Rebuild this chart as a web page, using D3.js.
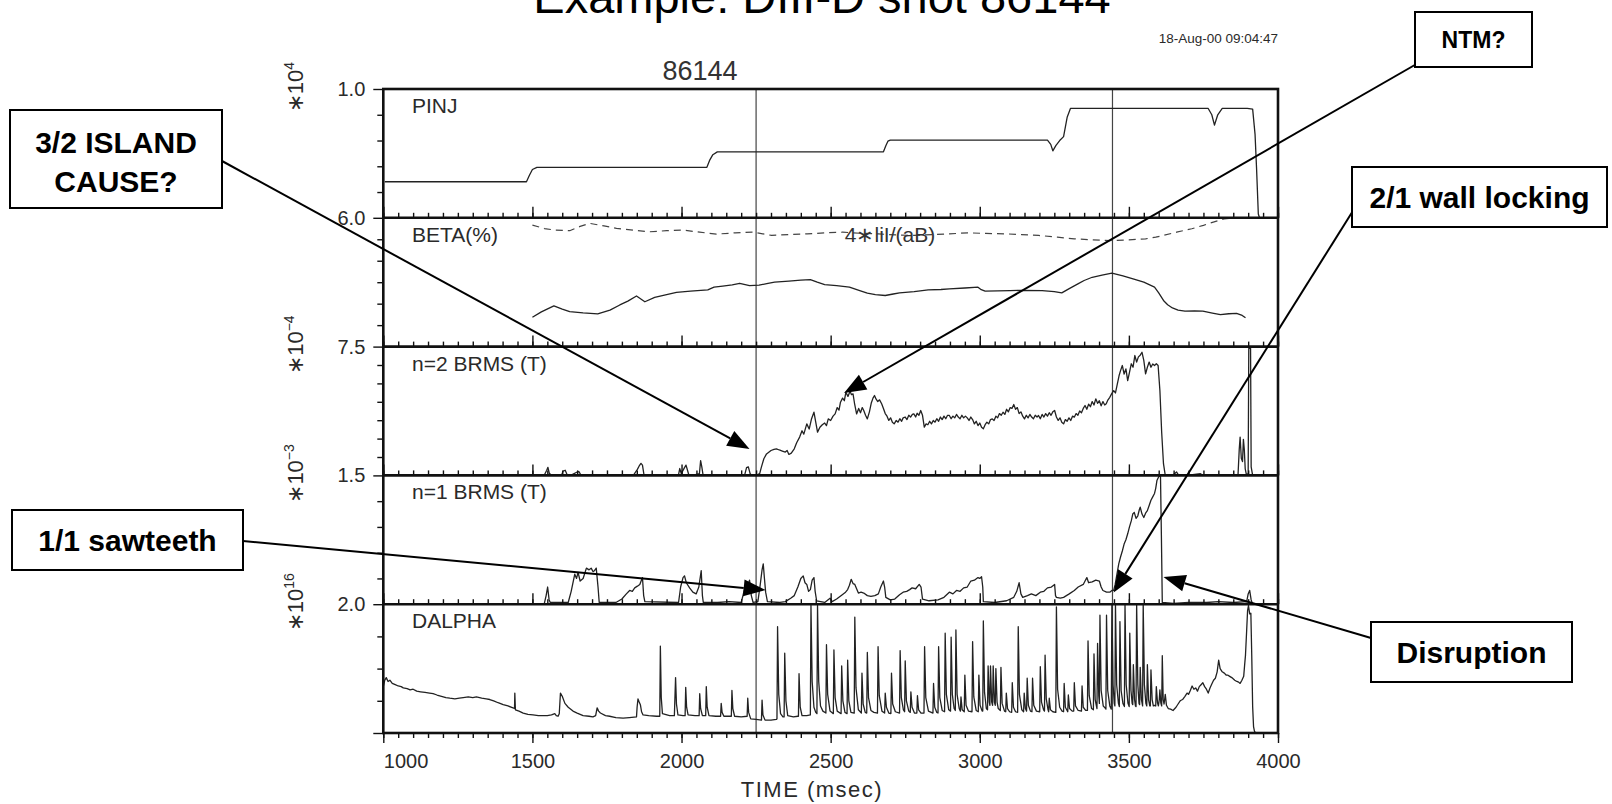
<!DOCTYPE html>
<html>
<head>
<meta charset="utf-8">
<script src="https://cdn.jsdelivr.net/npm/d3@7"></script>
<style>
  html, body { margin: 0; padding: 0; background: #fff; }
  svg { display: block; }
</style>
</head>
<body>
<svg id="chart" width="1612" height="804"></svg>
<script>
// ---- shot 86144 signals: [time (ms), value in panel units] ----

// Neutral beam power, units of 1e4
const pinj = [[1005,0.28],[1480,0.28],[1490,0.33],[1500,0.375],[1515,0.392],[2085,0.392],[2095,0.45],[2105,0.49],[2120,0.512],
  [2677,0.512],[2685,0.56],[2692,0.595],[2700,0.603],[3227,0.603],[3238,0.57],[3245,0.52],[3255,0.56],[3268,0.60],[3281,0.63],
  [3293,0.78],[3304,0.849],[3766,0.849],[3778,0.80],[3787,0.72],[3798,0.80],[3813,0.849],[3897,0.849],[3915,0.844],[3923,0.65],
  [3928,0.39],[3934,0.03],[3938,0]];

// Beta (%)
const beta = [[1500,1.37],[1530,1.62],[1572,1.9],[1600,1.75],[1625,1.63],[1670,1.57],[1719,1.52],[1760,1.7],[1793,1.94],[1820,2.12],
  [1849,2.36],[1877,2.09],[1910,2.29],[1950,2.42],[1983,2.53],[2030,2.58],[2088,2.64],[2109,2.77],[2138,2.82],[2170,2.88],[2195,2.95],
  [2228,2.84],[2260,2.86],[2290,2.95],[2312,3.0],[2360,3.05],[2400,3.1],[2432,3.12],[2455,3.0],[2480,2.89],[2520,2.84],[2563,2.77],
  [2600,2.6],[2623,2.49],[2650,2.42],[2683,2.38],[2710,2.45],[2731,2.5],[2780,2.56],[2827,2.64],[2870,2.66],[2898,2.69],[2950,2.73],
  [2994,2.77],[3005,2.65],[3018,2.58],[3060,2.6],[3102,2.61],[3150,2.62],[3209,2.61],[3250,2.56],[3275,2.5],[3300,2.7],[3329,2.92],
  [3350,3.08],[3377,3.23],[3410,3.33],[3443,3.42],[3480,3.3],[3514,3.16],[3550,3.0],[3586,2.77],[3600,2.5],[3616,2.15],[3630,1.95],
  [3646,1.8],[3665,1.7],[3688,1.65],[3720,1.66],[3748,1.65],[3780,1.56],[3807,1.49],[3835,1.53],[3861,1.55],[3880,1.45],[3891,1.34]];

// Beta limit 4*li*I/(aB)
const betaLimit = [[1500,5.66],[1540,5.5],[1575,5.43],[1625,5.4],[1660,5.6],[1692,5.74],[1740,5.62],[1782,5.51],[1840,5.42],[1893,5.35],
  [1950,5.4],[2004,5.43],[2061,5.33],[2117,5.24],[2180,5.3],[2242,5.33],[2302,5.18],[2360,5.22],[2421,5.25],[2480,5.3],[2540,5.33],
  [2600,5.28],[2660,5.25],[2720,5.2],[2779,5.18],[2840,5.22],[2898,5.25],[2960,5.3],[3020,5.27],[3090,5.25],[3140,5.22],[3197,5.18],
  [3260,5.1],[3317,5.02],[3380,4.97],[3436,4.94],[3500,4.97],[3556,5.02],[3590,5.1],[3616,5.18],[3660,5.33],[3711,5.49],[3750,5.65],
  [3783,5.8],[3819,5.95],[3850,6.0],[3900,6.0]];

// n=2 magnetic fluctuation amplitude, units of 1e-4 T
const brmsN2 = [[1500,0.05],[1510,0.0],[1540,0.02],[1548,0.3],[1552,0.47],[1557,0.1],[1565,0.02],[1598,0.03],[1603,0.25],[1610,0.3],
  [1616,0.05],[1630,0.02],[1650,0.2],[1656,0.22],[1662,0.04],[1700,0.02],[1750,0.03],[1800,0.02],[1840,0.05],[1852,0.35],[1858,0.55],
  [1864,0.7],[1869,0.6],[1874,0.05],[1900,0.02],[1950,0.03],[1990,0.05],[1994,0.4],[1999,0.1],[2010,0.45],[2015,0.6],[2020,0.3],
  [2024,0.05],[2040,0.02],[2060,0.1],[2064,0.86],[2068,0.5],[2072,0.05],[2100,0.02],[2150,0.03],[2200,0.02],[2212,0.05],[2218,0.45],
  [2224,0.5],[2230,0.1],[2236,0.0],[2250,0.0],[2262,0.1],[2268,0.5],[2276,0.97],[2285,1.25],[2300,1.45],[2310,1.52],[2318,1.55],
  [2328,1.48],[2338,1.42],[2348,1.36],[2354,1.45],[2360,1.22],[2368,1.3],[2378,1.55],[2386,1.9],[2396,2.23],[2404,2.6],[2410,2.4],
  [2420,3.0],[2428,2.7],[2436,3.3],[2444,3.68],[2450,3.1],[2456,2.52],[2464,2.8],[2472,2.95],[2480,3.05],[2486,2.9],[2492,3.29],
  [2500,3.2],[2508,3.45],[2515,3.58],[2522,3.95],[2528,3.8],[2533,4.26],[2540,4.5],[2546,4.35],[2551,4.84],[2558,4.6],[2565,4.9],
  [2570,4.7],[2575,4.75],[2580,4.2],[2587,3.58],[2594,3.9],[2600,3.65],[2606,3.95],[2611,3.78],[2617,3.5],[2623,3.29],[2630,3.7],
  [2636,4.2],[2642,4.5],[2647,4.65],[2652,4.45],[2658,4.3],[2664,4.4],[2671,4.17],[2677,3.9],[2683,3.6],[2689,3.45],[2695,3.2],
  [2701,3.35],[2707,3.1],[2713,3.0],[2720,3.2],[2726,3.1],[2732,3.3],[2738,3.15],[2743,3.35],[2750,3.4],[2756,3.25],[2762,3.5],
  [2768,3.4],[2774,3.55],[2779,3.58],[2785,3.4],[2790,3.62],[2796,3.5],[2802,3.78],[2808,3.5],[2814,2.81],[2820,3.0],[2826,2.95],
  [2832,3.15],[2838,3.0],[2844,3.2],[2850,3.1],[2856,3.3],[2862,3.15],[2868,3.4],[2874,3.25],[2880,3.45],[2886,3.3],[2892,3.5],
  [2898,3.49],[2904,3.3],[2910,3.45],[2916,3.35],[2922,3.55],[2928,3.4],[2934,3.3],[2940,3.5],[2946,3.35],[2952,3.45],[2958,3.35],
  [2964,3.2],[2970,3.4],[2976,3.25],[2982,3.0],[2988,3.15],[2994,2.9],[3000,3.05],[3006,2.8],[3012,2.71],[3018,2.95],[3024,3.1],
  [3030,3.0],[3036,3.25],[3042,3.29],[3048,3.2],[3054,3.45],[3060,3.35],[3066,3.6],[3072,3.5],[3078,3.68],[3084,3.55],[3090,3.85],
  [3096,3.7],[3102,3.95],[3108,3.9],[3114,4.13],[3120,3.85],[3126,3.95],[3132,3.6],[3138,3.7],[3144,3.45],[3150,3.29],[3156,3.5],
  [3162,3.35],[3168,3.55],[3174,3.4],[3180,3.3],[3186,3.5],[3192,3.4],[3197,3.49],[3203,3.3],[3209,3.55],[3215,3.4],[3221,3.6],
  [3227,3.45],[3233,3.65],[3239,3.5],[3245,3.7],[3251,3.78],[3257,3.4],[3263,3.2],[3269,3.35],[3275,3.1],[3281,3.0],[3287,3.25],
  [3293,3.15],[3299,3.35],[3305,3.2],[3311,3.45],[3317,3.39],[3323,3.6],[3329,3.5],[3335,3.75],[3341,3.65],[3347,3.9],[3353,4.07],
  [3359,3.85],[3365,4.15],[3371,4.0],[3377,4.3],[3383,4.1],[3389,4.46],[3395,4.2],[3401,4.35],[3407,4.05],[3413,4.3],[3419,4.1],
  [3424,4.17],[3430,4.4],[3436,4.55],[3442,4.75],[3449,4.94],[3455,4.8],[3461,5.3],[3467,5.8],[3472,6.1],[3478,6.4],[3484,5.9],
  [3490,6.2],[3496,5.52],[3502,6.0],[3508,6.5],[3514,6.3],[3520,6.98],[3526,6.6],[3532,6.9],[3538,7.0],[3544,7.17],[3550,6.7],
  [3556,5.91],[3562,6.3],[3568,6.6],[3574,6.3],[3580,6.49],[3586,6.4],[3592,6.5],[3598,6.4],[3604,4.94],[3610,2.5],[3616,0.68],
  [3622,0.0],[3650,0.05],[3660,0.2],[3666,0.03],[3700,0.02],[3740,0.1],[3746,0.03],[3800,0.02],[3850,0.03],[3866,0.05],[3870,1.5],
  [3873,2.23],[3877,1.0],[3881,0.8],[3884,2.1],[3887,1.5],[3890,0.4],[3894,0.05],[3900,0.1],[3902,7.4],[3908,7.4],[3910,0.5],[3915,0.0]];

// n=1 magnetic fluctuation amplitude, units of 1e-3 T
const brmsN1 = [[1500,0.0],[1540,0.01],[1546,0.1],[1551,0.2],[1556,0.05],[1560,0.02],[1620,0.02],[1630,0.15],[1642,0.35],[1648,0.3],
  [1653,0.37],[1660,0.27],[1670,0.3],[1681,0.42],[1690,0.4],[1697,0.42],[1703,0.38],[1708,0.39],[1714,0.42],[1720,0.2],[1724,0.02],
  [1780,0.02],[1800,0.06],[1815,0.12],[1826,0.16],[1835,0.15],[1843,0.19],[1852,0.21],[1860,0.23],[1869,0.31],[1873,0.1],[1877,0.03],
  [1990,0.02],[1997,0.2],[2005,0.31],[2010,0.33],[2016,0.25],[2027,0.19],[2038,0.14],[2049,0.12],[2058,0.2],[2066,0.39],[2070,0.1],
  [2073,0.02],[2120,0.02],[2160,0.03],[2200,0.02],[2206,0.1],[2212,0.19],[2218,0.12],[2223,0.23],[2228,0.28],[2234,0.1],[2240,0.02],
  [2256,0.03],[2264,0.23],[2270,0.4],[2274,0.47],[2278,0.3],[2282,0.14],[2288,0.03],[2330,0.02],[2348,0.03],[2366,0.07],[2378,0.1],
  [2390,0.2],[2400,0.3],[2408,0.33],[2414,0.25],[2420,0.23],[2426,0.15],[2432,0.17],[2438,0.28],[2444,0.31],[2448,0.15],[2453,0.04],
  [2480,0.02],[2498,0.07],[2505,0.03],[2520,0.06],[2539,0.11],[2550,0.14],[2557,0.17],[2563,0.22],[2569,0.29],[2575,0.24],[2581,0.23],
  [2587,0.18],[2593,0.13],[2602,0.14],[2611,0.13],[2623,0.1],[2635,0.09],[2648,0.1],[2660,0.12],[2668,0.2],[2677,0.27],[2681,0.2],
  [2685,0.08],[2700,0.05],[2715,0.06],[2731,0.11],[2743,0.14],[2755,0.15],[2765,0.17],[2773,0.19],[2785,0.18],[2797,0.23],[2803,0.2],
  [2808,0.06],[2830,0.04],[2860,0.05],[2880,0.08],[2898,0.14],[2910,0.12],[2922,0.16],[2934,0.15],[2946,0.19],[2958,0.2],[2970,0.27],
  [2982,0.28],[2994,0.31],[3000,0.3],[3006,0.32],[3010,0.2],[3012,0.03],[3050,0.02],[3090,0.04],[3114,0.08],[3124,0.15],[3132,0.25],
  [3138,0.12],[3144,0.08],[3160,0.1],[3173,0.12],[3188,0.1],[3203,0.14],[3215,0.15],[3227,0.19],[3240,0.2],[3251,0.23],[3254,0.1],
  [3257,0.08],[3270,0.07],[3281,0.08],[3300,0.12],[3317,0.16],[3330,0.2],[3347,0.23],[3353,0.27],[3359,0.31],[3365,0.25],[3377,0.26],
  [3389,0.28],[3401,0.27],[3407,0.2],[3413,0.16],[3425,0.14],[3436,0.14],[3443,0.16],[3449,0.16],[3454,0.23],[3460,0.35],[3466,0.47],
  [3472,0.55],[3478,0.62],[3484,0.7],[3490,0.75],[3496,0.82],[3502,0.9],[3508,0.97],[3513,1.05],[3518,1.07],[3524,1.0],[3530,1.03],
  [3535,1.1],[3538,1.13],[3544,1.05],[3550,1.01],[3556,1.06],[3562,1.09],[3568,1.15],[3574,1.21],[3580,1.25],[3586,1.29],[3590,1.35],
  [3594,1.44],[3601,1.49],[3606,1.49],[3609,0.8],[3612,0.02],[3650,0.01],[3700,0.02],[3760,0.02],[3800,0.03],[3850,0.02],[3895,0.03],
  [3900,0.12],[3905,0.16],[3910,0.05],[3915,0.0]];

// D-alpha emission, units of 1e16
const dalpha = [[1000,0.72],[1005,0.82],[1010,0.86],[1016,0.8],[1022,0.82],[1030,0.77],[1040,0.75],[1050,0.73],[1060,0.72],[1067,0.7],
  [1080,0.69],[1090,0.67],[1100,0.68],[1112,0.65],[1125,0.64],[1140,0.63],[1155,0.62],[1167,0.61],[1180,0.59],[1195,0.57],[1210,0.55],
  [1223,0.54],[1240,0.53],[1255,0.54],[1268,0.55],[1285,0.56],[1300,0.55],[1312,0.56],[1330,0.54],[1345,0.53],[1357,0.52],[1370,0.5],
  [1385,0.47],[1402,0.44],[1418,0.42],[1435,0.39],[1440,0.38],[1441,0.62],[1443,0.36],[1455,0.34],[1469,0.31],[1485,0.29],[1502,0.28],
  [1520,0.27],[1536,0.27],[1550,0.27],[1564,0.28],[1575,0.3],[1580,0.27],[1586,0.26],[1590,0.3],[1594,0.62],[1600,0.57],[1609,0.46],
  [1620,0.4],[1636,0.34],[1650,0.31],[1670,0.27],[1690,0.26],[1703,0.25],[1712,0.27],[1717,0.39],[1722,0.34],[1728,0.31],[1745,0.27],
  [1759,0.26],[1780,0.24],[1804,0.23],[1825,0.24],[1849,0.25],[1851,0.4],[1854,0.53],[1858,0.48],[1862,0.44],[1866,0.33],[1871,0.28],
  [1890,0.27],[1916,0.26],[1927,0.26],[1929,1.35],[1932,0.55],[1936,0.3],[1960,0.27],[1976,0.27],[1980,0.86],[1983,0.45],[1988,0.28],
  [2005,0.27],[2012,0.27],[2014,0.71],[2017,0.4],[2022,0.28],[2045,0.27],[2059,0.27],[2061,0.61],[2064,0.38],[2070,0.27],[2081,0.27],
  [2083,0.72],[2086,0.4],[2092,0.27],[2115,0.26],[2131,0.26],[2133,0.46],[2136,0.32],[2142,0.26],[2167,0.26],[2169,0.66],[2172,0.38],
  [2178,0.26],[2200,0.25],[2220,0.26],[2222,0.54],[2225,0.32],[2232,0.22],[2250,0.21],[2268,0.2],[2270,0.51],[2273,0.28],[2280,0.2],
  [2300,0.2],[2318,0.21],[2320,0.22],[2322,1.65],[2326,0.6],[2332,0.3],[2340,0.25],[2344,0.25],[2346,1.24],[2350,0.5],[2356,0.27],
  [2375,0.25],[2390,0.26],[2392,0.26],[2394,0.92],[2398,0.4],[2404,0.27],[2420,0.27],[2432,0.28],[2434,1.98],[2438,0.8],[2444,0.4],
  [2450,0.32],[2454,0.3],[2456,1.98],[2460,0.8],[2466,0.42],[2474,0.34],[2484,0.31],[2486,1.37],[2490,0.6],[2498,0.34],[2509,0.3],
  [2511,1.29],[2515,0.55],[2522,0.34],[2535,0.3],[2537,1.04],[2541,0.5],[2548,0.32],[2555,0.3],[2557,1.13],[2561,0.5],[2568,0.32],
  [2579,0.31],[2581,1.8],[2585,0.7],[2593,0.36],[2603,0.31],[2605,0.93],[2609,0.45],[2616,0.32],[2621,0.31],[2623,1.25],[2627,0.55],
  [2635,0.35],[2645,0.32],[2657,0.31],[2659,1.34],[2663,0.58],[2672,0.34],[2681,0.31],[2683,0.62],[2687,0.4],[2695,0.31],[2702,0.3],
  [2704,0.93],[2708,0.45],[2717,0.33],[2731,0.31],[2733,1.28],[2737,0.55],[2744,0.36],[2748,0.33],[2750,1.12],[2754,0.5],[2762,0.34],
  [2767,0.32],[2769,0.64],[2773,0.4],[2781,0.31],[2789,0.31],[2791,0.58],[2795,0.36],[2803,0.31],[2813,0.31],[2815,1.34],[2819,0.55],
  [2828,0.34],[2843,0.31],[2845,0.77],[2849,0.4],[2856,0.32],[2860,0.31],[2862,1.34],[2866,0.55],[2874,0.35],[2882,0.33],[2884,1.55],
  [2888,0.6],[2896,0.36],[2902,0.34],[2904,1.49],[2908,0.6],[2914,0.38],[2918,0.35],[2920,1.6],[2924,0.6],[2931,0.38],[2935,0.34],
  [2937,0.56],[2941,0.36],[2948,0.33],[2950,0.9],[2954,0.43],[2962,0.34],[2974,0.33],[2976,1.42],[2980,0.56],[2988,0.35],[2995,0.33],
  [2997,0.9],[3001,0.43],[3008,0.34],[3010,0.34],[3012,1.74],[3016,0.63],[3022,0.38],[3026,0.36],[3028,1.04],[3032,0.48],[3034,0.43],
  [3036,1.04],[3040,0.48],[3043,0.43],[3045,1.04],[3049,0.48],[3052,0.43],[3054,1.0],[3058,0.48],[3062,0.38],[3069,0.35],[3071,1.02],
  [3075,0.46],[3083,0.34],[3087,0.33],[3089,0.62],[3093,0.38],[3100,0.33],[3107,0.32],[3109,0.78],[3113,0.4],[3120,0.33],[3127,0.32],
  [3129,1.65],[3133,0.6],[3141,0.36],[3147,0.33],[3149,0.62],[3153,0.38],[3157,0.34],[3159,0.85],[3163,0.43],[3170,0.34],[3175,0.33],
  [3177,0.85],[3181,0.43],[3190,0.34],[3201,0.33],[3203,1.03],[3207,0.48],[3214,0.36],[3217,0.34],[3219,1.21],[3223,0.53],[3229,0.36],
  [3231,0.33],[3233,0.54],[3237,0.36],[3245,0.33],[3255,0.32],[3257,1.96],[3261,0.68],[3268,0.4],[3276,0.34],[3281,0.33],[3283,0.77],
  [3287,0.4],[3295,0.33],[3297,0.59],[3301,0.38],[3310,0.34],[3315,0.34],[3317,0.78],[3321,0.42],[3330,0.35],[3341,0.34],[3343,0.73],
  [3347,0.4],[3355,0.35],[3361,0.35],[3363,1.43],[3367,0.58],[3375,0.38],[3381,0.36],[3383,1.23],[3387,0.52],[3391,0.42],[3393,0.38],
  [3395,1.39],[3399,0.58],[3401,0.46],[3403,1.83],[3407,0.66],[3414,0.42],[3420,0.39],[3423,0.37],[3425,1.83],[3429,0.66],[3436,0.42],
  [3441,0.37],[3443,2.0],[3447,0.75],[3451,0.46],[3453,0.42],[3455,2.0],[3459,0.75],[3465,0.46],[3468,0.41],[3470,1.73],[3474,0.66],
  [3480,0.46],[3485,0.41],[3487,2.0],[3491,0.75],[3497,0.46],[3501,0.41],[3503,1.55],[3507,0.66],[3511,0.46],[3513,0.44],[3515,1.06],
  [3519,0.52],[3522,0.42],[3524,0.41],[3526,2.0],[3530,0.75],[3534,0.46],[3536,0.44],[3538,1.02],[3542,0.52],[3546,0.42],[3548,2.0],
  [3552,0.75],[3557,0.46],[3560,0.42],[3562,1.06],[3566,0.52],[3570,0.42],[3572,0.42],[3574,0.98],[3578,0.52],[3582,0.42],[3586,0.43],
  [3590,0.42],[3592,0.72],[3596,0.47],[3599,0.42],[3602,0.52],[3604,0.67],[3607,0.47],[3610,0.42],[3612,1.2],[3615,0.52],[3618,0.45],
  [3622,0.6],[3626,0.43],[3632,0.38],[3640,0.37],[3648,0.35],[3658,0.4],[3665,0.45],[3672,0.5],[3680,0.52],[3688,0.57],[3695,0.62],
  [3700,0.6],[3706,0.66],[3712,0.73],[3718,0.68],[3724,0.7],[3730,0.65],[3736,0.72],[3742,0.75],[3748,0.78],[3754,0.72],[3760,0.68],
  [3766,0.62],[3772,0.7],[3778,0.76],[3784,0.82],[3790,0.85],[3796,0.95],[3801,1.13],[3806,1.0],[3813,0.95],[3820,0.93],[3826,0.9],
  [3831,0.9],[3838,0.88],[3845,0.86],[3855,0.82],[3862,0.8],[3868,0.79],[3873,0.77],[3879,0.82],[3885,0.88],[3888,1.05],[3891,1.21],
  [3895,1.6],[3898,1.9],[3901,1.98],[3905,1.85],[3909,1.86],[3912,1.2],[3915,0.41],[3918,0.1],[3921,0.03],[3925,0.0]];

// Panel names, full-scale values, their printed labels and exponents
const panelNames  = ["PINJ", "BETA(%)", "n=2 BRMS (T)", "n=1 BRMS (T)", "DALPHA"];
const panelMax    = [1.0, 6.0, 7.5, 1.5, 2.0];
const panelTopTxt = ["1.0", "6.0", "7.5", "1.5", "2.0"];
const panelExp    = ["4", null, "\u22124", "\u22123", "16"];
const panelDivs   = [5, 6, 7, 5, 4];

// Time axis
const timeDomain = [1000, 4000];
const majorTicks = [1000, 1500, 2000, 2500, 3000, 3500, 4000];
const markerTimes = [2250, 3445];

// Annotations: tip anchored to [time, value, panel index]
const notes = [
  { lines: ["3/2 ISLAND", "CAUSE?"], tip: [2228, 1.54, 2] },
  { lines: ["NTM?"], tip: [2545, 4.8, 2] },
  { lines: ["2/1 wall locking"], tip: [3449, 0.136, 3] },
  { lines: ["1/1 sawteeth"], tip: [2282, 0.166, 3] },
  { lines: ["Disruption"], tip: [3616, 0.317, 3] }
];

// ---------------------------------------------------------------
const svg = d3.select("#chart");
const FONT = "'Liberation Sans', Arial, sans-serif";
const INK = "#2a2a2a";

const frame = { left: 383.3, right: 1278, top: 89, bottom: 733 };
const panelH = (frame.bottom - frame.top) / panelNames.length;

const x = d3.scaleLinear().domain(timeDomain).range([frame.left, frame.right]);

const panels = panelNames.map((name, i) => {
  const y0 = frame.top + i * panelH, y1 = y0 + panelH;
  return { name, i, y0, y1, max: panelMax[i],
           y: d3.scaleLinear().domain([0, panelMax[i]]).range([y1, y0]) };
});

const seriesByPanel = [
  [{ data: pinj }],
  [{ data: beta }, { data: betaLimit, dash: "7,5" }],
  [{ data: brmsN2 }],
  [{ data: brmsN1 }],
  [{ data: dalpha }]
];

// Title, date stamp and shot number
svg.append("text").attr("x", 822).attr("y", 13)
  .attr("text-anchor", "middle").attr("font-family", FONT).attr("font-size", 47)
  .attr("fill", "#000").text("Example: DIII-D shot 86144");

svg.append("text").attr("x", frame.right).attr("y", 43)
  .attr("text-anchor", "end").attr("font-family", FONT).attr("font-size", 13.5)
  .attr("fill", INK).text("18-Aug-00 09:04:47");

svg.append("text").attr("x", 700).attr("y", 80)
  .attr("text-anchor", "middle").attr("font-family", FONT).attr("font-size", 27)
  .attr("fill", "#333").text("86144");

// Clip paths per panel
const defs = svg.append("defs");
panels.forEach(p => {
  defs.append("clipPath").attr("id", "clip" + p.i)
    .append("rect").attr("x", frame.left).attr("y", p.y0 - 1)
    .attr("width", frame.right - frame.left).attr("height", panelH + 2);
});

// Event markers (vertical lines)
svg.append("g").selectAll("line").data(markerTimes).join("line")
  .attr("x1", d => x(d)).attr("x2", d => x(d))
  .attr("y1", frame.top).attr("y2", frame.bottom)
  .attr("stroke", "#444").attr("stroke-width", 1.2);

// Traces
const line = d3.line();
panels.forEach(p => {
  const g = svg.append("g").attr("clip-path", `url(#clip${p.i})`);
  seriesByPanel[p.i].forEach(s => {
    g.append("path")
      .attr("d", line.x(d => x(d[0])).y(d => p.y(d[1]))(s.data))
      .attr("fill", "none")
      .attr("stroke", s.dash ? "#444" : "#222")
      .attr("stroke-width", s.dash ? 1.2 : 1.3)
      .attr("stroke-dasharray", s.dash || null)
      .attr("stroke-linejoin", "round");
  });
});

// Time ticks on each inner boundary (pointing up into panel above)
const minorTimes = d3.range(timeDomain[0], timeDomain[1] + 1, 50);
panels.slice(1).forEach(p => {
  svg.append("g").attr("transform", `translate(0,${p.y0})`)
    .call(d3.axisTop(x).tickValues(minorTimes).tickSize(5).tickFormat(""))
    .call(g => g.select(".domain").remove());
  svg.append("g").attr("transform", `translate(0,${p.y0})`)
    .call(d3.axisTop(x).tickValues(majorTicks).tickSize(11).tickFormat(""))
    .call(g => g.select(".domain").remove());
});

// Bottom time axis
svg.append("g").attr("transform", `translate(0,${frame.bottom})`)
  .call(d3.axisBottom(x).tickValues(minorTimes).tickSize(5).tickFormat(""))
  .call(g => g.select(".domain").remove());
const xAxis = svg.append("g").attr("transform", `translate(0,${frame.bottom})`)
  .call(d3.axisBottom(x).tickValues(majorTicks).tickSize(10).tickPadding(11).tickFormat(d3.format("d")))
  .call(g => g.select(".domain").remove());
xAxis.selectAll("text").attr("font-family", FONT).attr("font-size", 20).attr("fill", INK)
  .attr("text-anchor", (d, k) => k === 0 ? "start" : "middle");
svg.selectAll(".tick line").attr("stroke", "#111").attr("stroke-width", 1.4);

svg.append("text").attr("x", 812).attr("y", 797)
  .attr("text-anchor", "middle").attr("font-family", FONT).attr("font-size", 22)
  .attr("letter-spacing", 1.5).attr("fill", INK).text("TIME (msec)");

// Left value axes
panels.forEach(p => {
  const minors = d3.range(1, panelDivs[p.i]).map(k => k * p.max / panelDivs[p.i]);
  const ga = svg.append("g").attr("transform", `translate(${frame.left},0)`)
    .call(d3.axisLeft(p.y).tickValues(minors).tickSize(6).tickFormat(""))
    .call(g => g.select(".domain").remove());
  ga.selectAll("line").attr("stroke", "#111").attr("stroke-width", 1.4);
  const majors = p.i === panels.length - 1 ? [0, p.max] : [p.max];
  const gb = svg.append("g").attr("transform", `translate(${frame.left},0)`)
    .call(d3.axisLeft(p.y).tickValues(majors).tickSize(10).tickPadding(8)
      .tickFormat(d => d === p.max ? panelTopTxt[p.i] : ""))
    .call(g => g.select(".domain").remove());
  gb.selectAll("line").attr("stroke", "#111").attr("stroke-width", 1.4);
  gb.selectAll("text").attr("font-family", FONT).attr("font-size", 20).attr("fill", INK);

  // Exponent, rotated
  if (panelExp[p.i]) {
    const t = svg.append("text")
      .attr("transform", `translate(303,${p.y0 - 2}) rotate(-90)`)
      .attr("text-anchor", "middle").attr("font-family", FONT).attr("font-size", 22).attr("fill", INK);
    t.append("tspan").text("\u221710");
    t.append("tspan").attr("dy", -9).attr("font-size", 14).text(panelExp[p.i]);
  }

  // Panel name
  svg.append("text").attr("x", 412).attr("y", p.y0 + 24)
    .attr("font-family", FONT).attr("font-size", 21).attr("fill", INK).text(p.name);
});

// Label of the dashed beta-limit curve
svg.append("text").attr("x", 890).attr("y", panels[1].y0 + 24)
  .attr("text-anchor", "middle").attr("font-family", FONT).attr("font-size", 21)
  .attr("fill", "#333").text("4\u2217liI/(aB)");

// Frame and panel boundaries
const frameG = svg.append("g").attr("stroke", "#111").attr("stroke-width", 2.6).attr("fill", "none");
frameG.append("rect").attr("x", frame.left).attr("y", frame.top)
  .attr("width", frame.right - frame.left).attr("height", frame.bottom - frame.top);
frameG.selectAll("line").data(panels.slice(1)).join("line")
  .attr("x1", frame.left).attr("x2", frame.right)
  .attr("y1", d => d.y0).attr("y2", d => d.y0);

// Annotation boxes and arrows
const boxes = [
  { x: 10,   y: 110, w: 212, h: 98, size: 30, base: [153, 192], start: [222, 161] },
  { x: 1415, y: 12,  w: 117, h: 55, size: 23, base: [48],        start: [1420, 62] },
  { x: 1352, y: 167, w: 255, h: 60, size: 30, base: [208],       start: [1356, 206] },
  { x: 12,   y: 510, w: 231, h: 60, size: 30, base: [551],       start: [243, 541] },
  { x: 1371, y: 622, w: 201, h: 60, size: 30, base: [663],       start: [1371, 638] }
];

const ann = svg.append("g");
notes.forEach((n, k) => {
  const b = boxes[k];
  const tip = [x(n.tip[0]), panels[n.tip[2]].y(n.tip[1])];
  const dx = tip[0] - b.start[0], dy = tip[1] - b.start[1];
  const len = Math.hypot(dx, dy), ux = dx / len, uy = dy / len;
  const headL = 22, headW = 8.5;
  const base = [tip[0] - ux * headL, tip[1] - uy * headL];
  ann.append("line")
    .attr("x1", b.start[0]).attr("y1", b.start[1])
    .attr("x2", base[0]).attr("y2", base[1])
    .attr("stroke", "#000").attr("stroke-width", 2);
  ann.append("path")
    .attr("d", d3.line()([tip,
      [base[0] - uy * headW, base[1] + ux * headW],
      [base[0] + uy * headW, base[1] - ux * headW]]) + "Z")
    .attr("fill", "#000");
  ann.append("rect").attr("x", b.x).attr("y", b.y).attr("width", b.w).attr("height", b.h)
    .attr("fill", "#fff").attr("stroke", "#000").attr("stroke-width", 2);
  n.lines.forEach((txt, j) => {
    ann.append("text").attr("x", b.x + b.w / 2).attr("y", b.base[j])
      .attr("text-anchor", "middle").attr("font-family", FONT)
      .attr("font-weight", "bold").attr("font-size", b.size).attr("fill", "#000").text(txt);
  });
});
</script>
</body>
</html>
